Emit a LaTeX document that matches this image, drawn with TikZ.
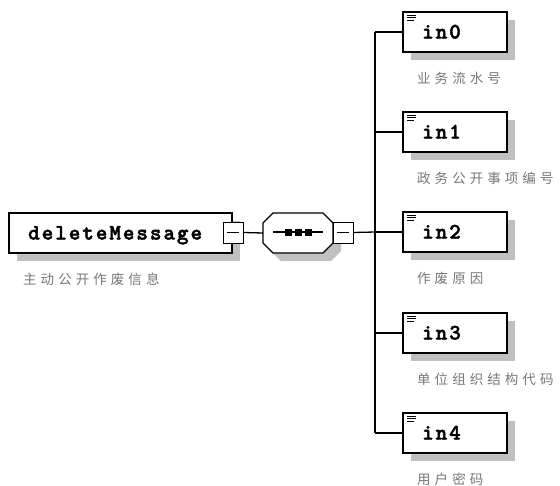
\documentclass[tikz,border=0pt]{standalone}
\usepackage{fontspec}
\usetikzlibrary{shadows}
\newfontfamily\monob{lmmonolt10-bold.otf}[LetterSpace=9,FakeBold=2]
\newfontfamily\cjk[LetterSpace=30]{Noto Sans CJK SC}
\definecolor{shadowgray}{RGB}{192,192,192}
\definecolor{labelgray}{RGB}{120,120,120}
\tikzset{
  elbox/.style={draw=black, fill=white, line width=1.3pt, rectangle, inner sep=0pt,
    general shadow={fill=shadowgray, shadow xshift=8pt, shadow yshift=-8pt}},
  childbox/.style={elbox, minimum width=104pt, minimum height=40pt},
  collapse/.style={draw=black, fill=white, line width=1pt, rectangle, inner sep=0pt,
    minimum width=20pt, minimum height=21pt,
    path picture={\draw[line width=1pt] ([xshift=4pt]path picture bounding box.west) -- ([xshift=-4pt]path picture bounding box.east);}},
  seqanchor/.style={rectangle, minimum width=70pt, minimum height=40pt, inner sep=0pt},
  octo/.style={draw=black, fill=white, line width=1.3pt},
  conn/.style={draw=black, line width=1.3pt},
  elname/.style={font=\monob\fontsize{22}{22}\selectfont, inner sep=0pt, anchor=base west},
  desc/.style={font=\cjk\fontsize{13.5}{14}\selectfont, text=labelgray, inner sep=0pt, anchor=west},
  dot/.style={fill=black, minimum size=7pt, inner sep=0pt, rectangle},
}
\begin{document}
\begin{tikzpicture}[x=1pt,y=-1pt]
\useasboundingbox (0,0) rectangle (560,485);
\fill[white] (0,0) rectangle (560,485);
% main element
\node[elbox, minimum width=223pt, minimum height=40pt] (main) at (120.5,233) {};
\node[elname] (maintxt) at (28,239.5) {deleteMessage};
\node[collapse] (mc) at (233,232.5) {};
\node[desc] (mainlbl) at (23,279) {主动公开作废信息};
% sequence compositor
\node[seqanchor] (seq) at (298,233) {};
\fill[shadowgray, shift={(8,8)}] (273,213) -- (323,213) -- (333,223) -- (333,243) -- (323,253) -- (273,253) -- (263,243) -- (263,223) -- cycle;
\path[octo] (273,213) -- (323,213) -- (333,223) -- (333,243) -- (323,253) -- (273,253) -- (263,243) -- (263,223) -- cycle;
\coordinate (sl) at (273,232);
\coordinate (sr) at (323,232);
\draw[line width=1.2pt] (sl) -- (sr);
\node[dot] (d1) at (288.5,232) {};
\node[dot] (d2) at (298.5,232) {};
\node[dot] (d3) at (308.5,232) {};
\node[collapse] (sc) at (343,232.5) {};
\draw[conn] (mc.east) -- (seq.west);
% bus
\coordinate (b0) at (375,32);
\coordinate (b1) at (375,132);
\coordinate (b2) at (375,232);
\coordinate (b3) at (375,333);
\coordinate (b4) at (375,433);
\draw[conn] (sc.east) -- (b2);
\draw[conn] (b0) -- (b4);
% children
\foreach \i/\y/\lbl in {0/32/业务流水号, 1/132/政务公开事项编号, 2/232/作废原因, 3/333/单位组织结构代码, 4/433/用户密码}{
  \node[childbox] (c\i) at (455,\y) {};
  \node[elname] (t\i) at (422,\y+6.5) {in\i};
  \node[desc] (l\i) at (417,\y+46) {\lbl};
  \draw[line width=1pt] (407,\y-17) -- (416,\y-17) (407,\y-14.5) -- (416,\y-14.5) (407,\y-12) -- (414,\y-12);
  \draw[conn] (b\i) -- (c\i.west);
}
\end{tikzpicture}
\end{document}
